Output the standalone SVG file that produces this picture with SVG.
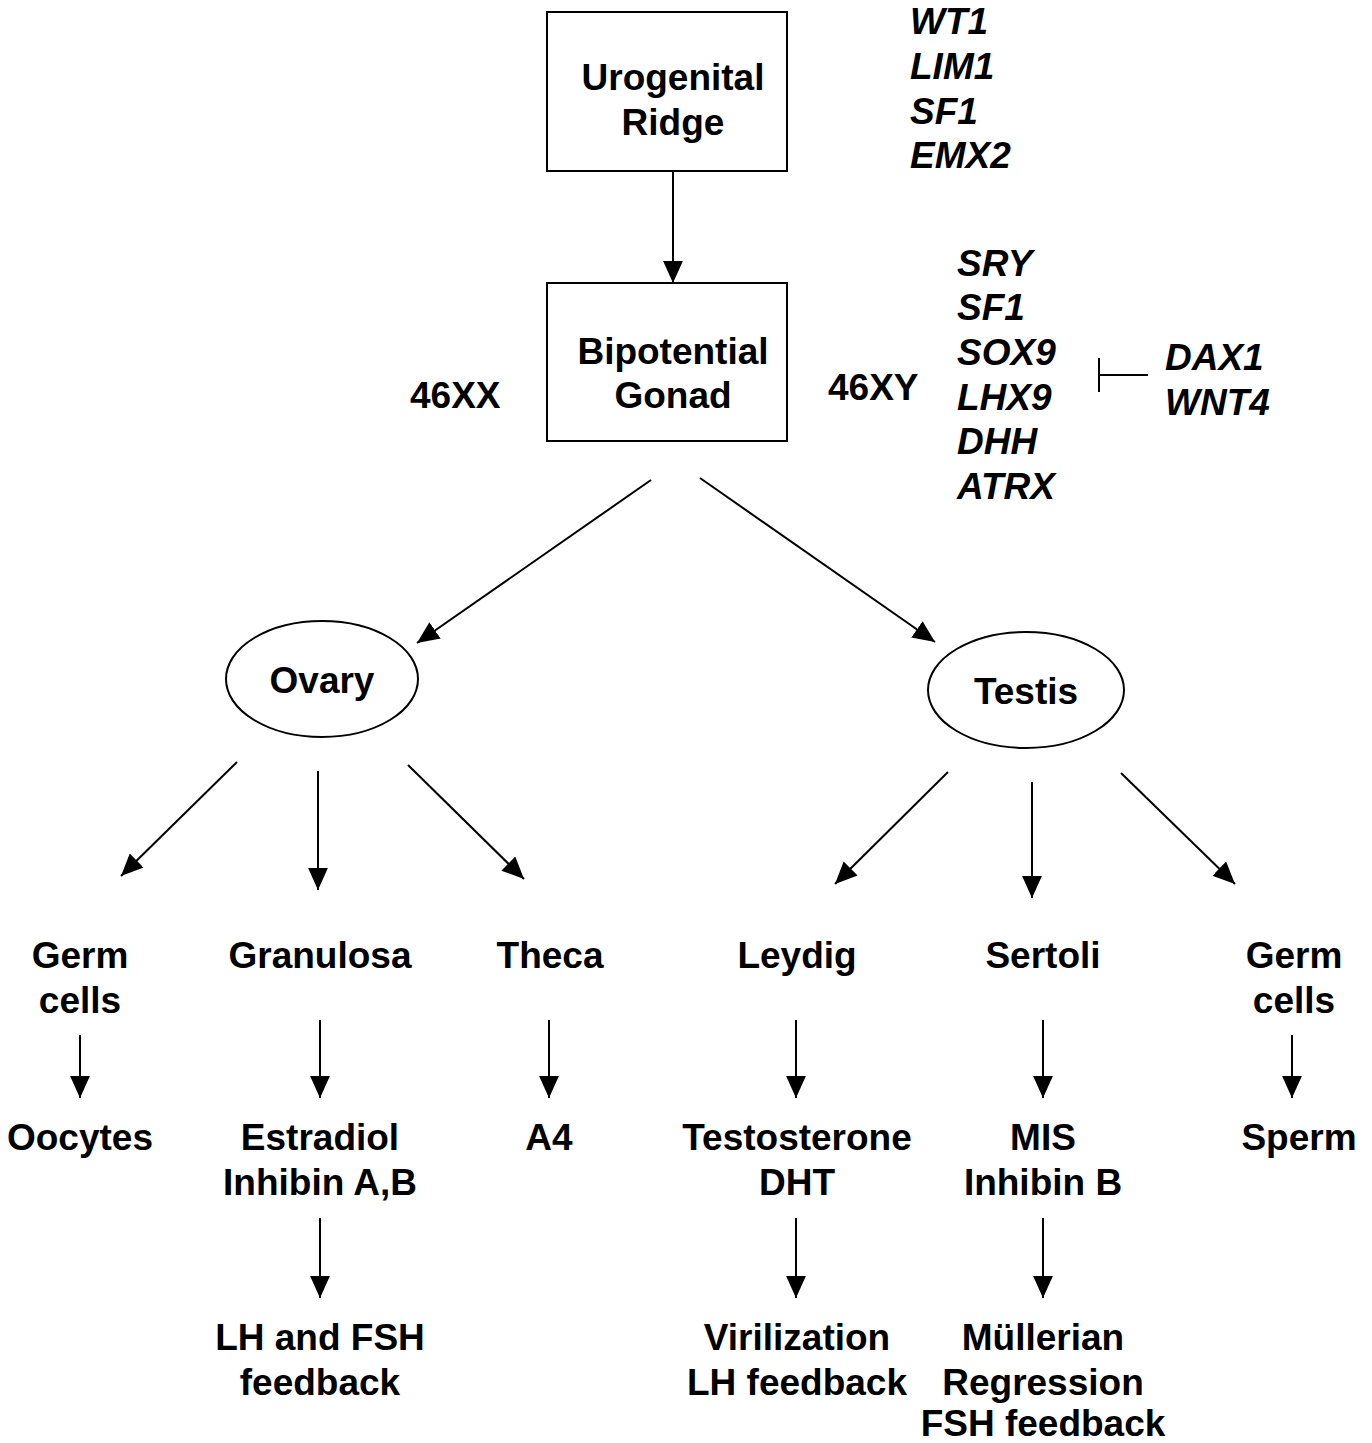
<svg xmlns="http://www.w3.org/2000/svg" width="1372" height="1443" viewBox="0 0 1372 1443">
<style>
text{font-family:"Liberation Sans",Arial,sans-serif;font-weight:bold;font-size:37px;fill:#000}
.c{text-anchor:middle}
.i{font-style:italic}
.shape{fill:#fff;stroke:#000;stroke-width:2}
.ln{stroke:#000;stroke-width:2;fill:none}
.ar{stroke:#000;stroke-width:2;fill:none;marker-end:url(#ah)}
</style>
<defs>
<marker id="ah" markerUnits="userSpaceOnUse" markerWidth="22" markerHeight="20" refX="20" refY="9" orient="auto" viewBox="0 0 20 18">
<path d="M0,0 L20,9 L0,18 z" fill="#000"/>
</marker>
</defs>
<rect width="1372" height="1443" fill="#fff"/>
<g id="urogenital-ridge">
<rect class="shape" x="547" y="12" width="240" height="159"/>
<text class="c" x="673" y="90">Urogenital</text>
<text class="c" x="673" y="135">Ridge</text>
</g>
<g id="ridge-genes">
<text class="i" x="910" y="34">WT1</text>
<text class="i" x="910" y="79">LIM1</text>
<text class="i" x="910" y="124">SF1</text>
<text class="i" x="910" y="168">EMX2</text>
</g>
<g id="bipotential-gonad">
<rect class="shape" x="547" y="283" width="240" height="158"/>
<text class="c" x="673" y="364">Bipotential</text>
<text class="c" x="673" y="408">Gonad</text>
</g>
<g id="label-46xx"><text x="410" y="408">46XX</text></g>
<g id="label-46xy"><text x="828" y="400">46XY</text></g>
<g id="testis-genes">
<text class="i" x="957" y="276">SRY</text>
<text class="i" x="957" y="320">SF1</text>
<text class="i" x="957" y="365">SOX9</text>
<text class="i" x="957" y="410">LHX9</text>
<text class="i" x="957" y="454">DHH</text>
<text class="i" x="957" y="499">ATRX</text>
</g>
<g id="ovary-genes">
<text class="i" x="1165" y="370">DAX1</text>
<text class="i" x="1165" y="415">WNT4</text>
</g>
<g id="ovary">
<ellipse class="shape" cx="322" cy="679" rx="96" ry="58"/>
<text class="c" x="322" y="693">Ovary</text>
</g>
<g id="testis">
<ellipse class="shape" cx="1026" cy="690" rx="98" ry="58"/>
<text class="c" x="1026" y="704">Testis</text>
</g>
<g id="ov-germ"><text class="c" x="80" y="968">Germ</text><text class="c" x="80" y="1013">cells</text></g>
<g id="granulosa"><text class="c" x="320" y="968">Granulosa</text></g>
<g id="theca"><text class="c" x="550" y="968">Theca</text></g>
<g id="leydig"><text class="c" x="797" y="968">Leydig</text></g>
<g id="sertoli"><text class="c" x="1043" y="968">Sertoli</text></g>
<g id="te-germ"><text class="c" x="1294" y="968">Germ</text><text class="c" x="1294" y="1013">cells</text></g>
<g id="oocytes"><text class="c" x="80" y="1150">Oocytes</text></g>
<g id="estradiol"><text class="c" x="320" y="1150">Estradiol</text><text class="c" x="320" y="1195">Inhibin A,B</text></g>
<g id="a4"><text class="c" x="549" y="1150">A4</text></g>
<g id="testosterone"><text class="c" x="797" y="1150">Testosterone</text><text class="c" x="797" y="1195">DHT</text></g>
<g id="mis"><text class="c" x="1043" y="1150">MIS</text><text class="c" x="1043" y="1195">Inhibin B</text></g>
<g id="sperm"><text class="c" x="1299" y="1150">Sperm</text></g>
<g id="lh-fsh"><text class="c" x="320" y="1350">LH and FSH</text><text class="c" x="320" y="1395">feedback</text></g>
<g id="virilization"><text class="c" x="797" y="1350">Virilization</text><text class="c" x="797" y="1395">LH feedback</text></g>
<g id="mullerian"><text class="c" x="1043" y="1350">Müllerian</text><text class="c" x="1043" y="1395">Regression</text><text class="c" x="1043" y="1436">FSH feedback</text></g>
<g id="connectors">
<line class="ar" x1="673" y1="171" x2="673" y2="283"/>
<line class="ln" x1="1099" y1="358" x2="1099" y2="392"/>
<line class="ln" x1="1099" y1="375" x2="1148" y2="375"/>
<line class="ar" x1="651" y1="480" x2="417" y2="643"/>
<line class="ar" x1="700" y1="478" x2="935" y2="642"/>
<line class="ar" x1="237" y1="762" x2="121" y2="876"/>
<line class="ar" x1="318" y1="771" x2="318" y2="890"/>
<line class="ar" x1="408" y1="765" x2="524" y2="879"/>
<line class="ar" x1="948" y1="772" x2="835" y2="884"/>
<line class="ar" x1="1032" y1="782" x2="1032" y2="898"/>
<line class="ar" x1="1121" y1="773" x2="1235" y2="884"/>
<line class="ar" x1="80" y1="1035" x2="80" y2="1098"/>
<line class="ar" x1="320" y1="1020" x2="320" y2="1098"/>
<line class="ar" x1="549" y1="1020" x2="549" y2="1098"/>
<line class="ar" x1="796" y1="1020" x2="796" y2="1098"/>
<line class="ar" x1="1043" y1="1020" x2="1043" y2="1098"/>
<line class="ar" x1="1292" y1="1035" x2="1292" y2="1098"/>
<line class="ar" x1="320" y1="1218" x2="320" y2="1298"/>
<line class="ar" x1="796" y1="1218" x2="796" y2="1298"/>
<line class="ar" x1="1043" y1="1218" x2="1043" y2="1298"/>
</g>
</svg>
